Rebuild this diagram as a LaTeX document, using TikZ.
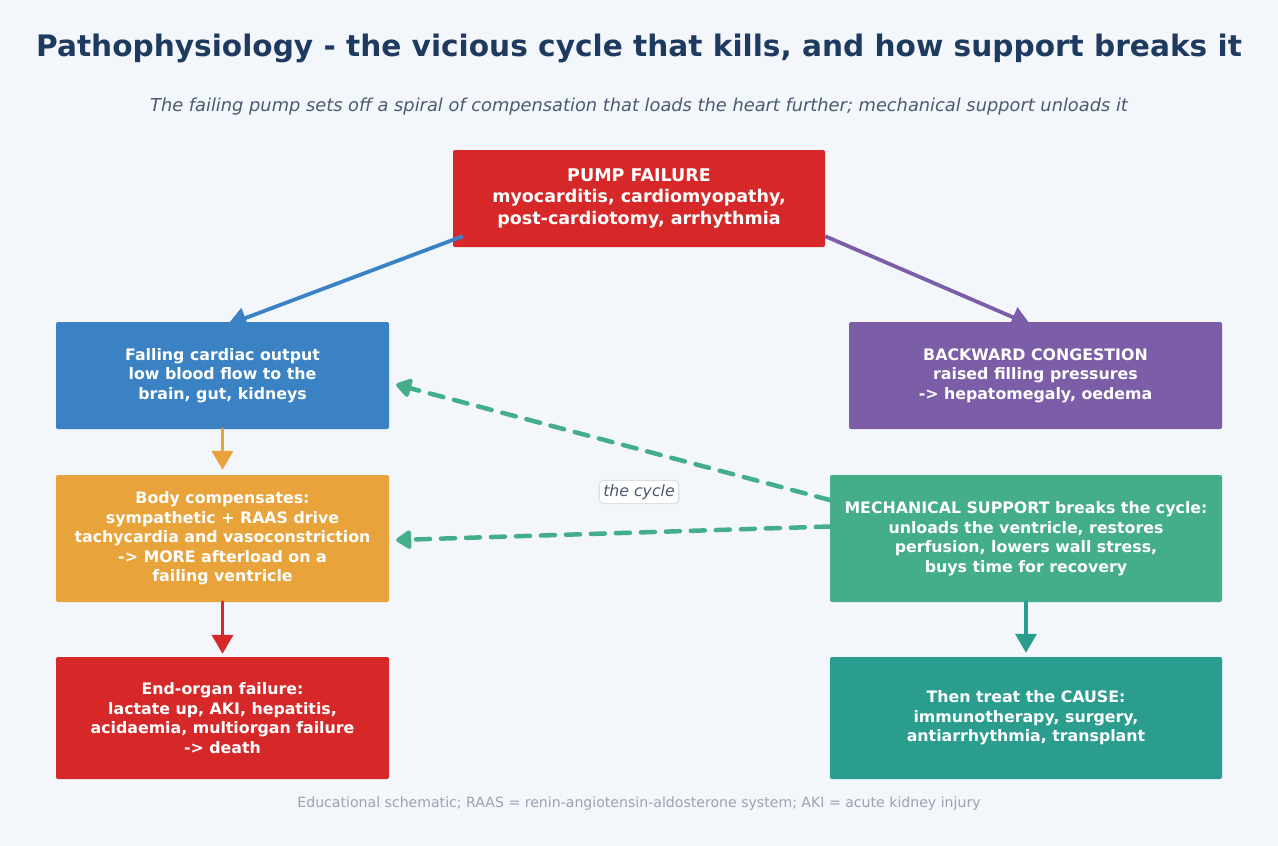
\documentclass[tikz,border=0pt]{standalone}
\usepackage{fontspec}
\setmainfont{DejaVu Sans}
\usepackage{tikz}
\usetikzlibrary{arrows.meta,calc}
\pgfdeclarelayer{back}
\pgfdeclarelayer{mid}
\pgfsetlayers{back,mid,main}
\definecolor{bgcol}{HTML}{F3F7FB}
\definecolor{titlecol}{HTML}{1F3A5F}
\definecolor{subcol}{HTML}{4A5A70}
\definecolor{notecol}{HTML}{9AA3AF}
\definecolor{pumpred}{HTML}{D62828}
\definecolor{flowblue}{HTML}{3A82C4}
\definecolor{congpurple}{HTML}{7B5EA7}
\definecolor{comporange}{HTML}{E8A33A}
\definecolor{supgreen}{HTML}{44AD8A}
\definecolor{treatteal}{HTML}{2A9D8F}
\definecolor{tagline}{HTML}{DCE0E5}
\begin{document}
\begin{tikzpicture}[line cap=round,line join=round,x=1pt,y=-1pt,
  box/.style={rounded corners=2pt,text=white,align=center,inner sep=0pt,
    font=\bfseries\fontsize{15.8}{19.5}\selectfont},
  link/.style={line width=3.8pt,-{Triangle[length=19pt,width=21pt]}},
  loopback/.style={line width=4.5pt,dash pattern=on 14pt off 11pt,color=supgreen,
    -{Triangle[round,length=17pt,width=21pt]}}]
\begin{pgfonlayer}{back}
\fill[bgcol] (0,0) rectangle (1278,846);
\end{pgfonlayer}
\useasboundingbox (0,0) rectangle (1278,846);
% titles
\node[text=titlecol,font=\bfseries\fontsize{29.6}{34}\selectfont] (title) at (639,48.5) {Pathophysiology - the vicious cycle that kills, and how support breaks it};
\node[text=subcol,font=\itshape\fontsize{17.8}{20}\selectfont] (subtitle) at (639,107) {The failing pump sets off a spiral of compensation that loads the heart further; mechanical support unloads it};
% boxes
\begin{pgfonlayer}{mid}
\node[box,fill=pumpred,minimum width=372pt,minimum height=97pt,font=\bfseries\fontsize{17.5}{21.5}\selectfont] (pump) at (639,198.5) {PUMP FAILURE\\myocarditis, cardiomyopathy,\\post-cardiotomy, arrhythmia};
\end{pgfonlayer}
\node[box,fill=flowblue,minimum width=333pt,minimum height=107pt] (fall) at (222.5,375.5) {Falling cardiac output\\low blood flow to the\\brain, gut, kidneys};
\node[box,fill=congpurple,minimum width=373pt,minimum height=107pt] (cong) at (1035.5,375.5) {BACKWARD CONGESTION\\raised filling pressures\\-> hepatomegaly, oedema};
\node[box,fill=comporange,minimum width=333pt,minimum height=127pt] (comp) at (222.5,538.5) {Body compensates:\\sympathetic + RAAS drive\\tachycardia and vasoconstriction\\-> MORE afterload on a\\failing ventricle};
\node[box,fill=supgreen,minimum width=392pt,minimum height=127pt] (mech) at (1026,538.5) {MECHANICAL SUPPORT breaks the cycle:\\unloads the ventricle, restores\\perfusion, lowers wall stress,\\buys time for recovery};
\node[box,fill=pumpred,minimum width=333pt,minimum height=122pt] (organ) at (222.5,718) {End-organ failure:\\lactate up, AKI, hepatitis,\\acidaemia, multiorgan failure\\-> death};
\node[box,fill=treatteal,minimum width=392pt,minimum height=122pt] (treat) at (1026,718) {Then treat the CAUSE:\\immunotherapy, surgery,\\antiarrhythmia, transplant};
% connectors
\begin{pgfonlayer}{mid}
\draw[link,flowblue] ($(pump.south west)+(10,-11)$) -- ($(fall.north)+(5,3)$);
\draw[link,congpurple] ($(pump.south east)+(0,-11)$) -- ($(cong.north)+(-5,3)$);
\end{pgfonlayer}
\draw[link,comporange,shorten >=5pt] (fall.south) -- (comp.north);
\draw[link,pumpred,shorten >=3pt] (comp.south) -- (organ.north);
\draw[link,treatteal,shorten >=4pt] (mech.south) -- (treat.north);
\draw[loopback] ($(mech.west)+(0,-38.5)$) -- ($(fall.east)+(7,9)$);
\draw[loopback] ($(mech.west)+(0,-12)$) -- ($(comp.east)+(7,1.5)$);
\node[fill=white,draw=tagline,line width=1.2pt,rounded corners=4pt,inner xsep=4pt,inner ysep=4pt,
  text=subcol,font=\itshape\fontsize{15.7}{17}\selectfont] (cyclelabel) at (639,492) {the cycle};
% footnote
\node[text=notecol,font=\fontsize{14.1}{16}\selectfont] (footnote) at (639,804) {Educational schematic; RAAS = renin-angiotensin-aldosterone system; AKI = acute kidney injury};
\end{tikzpicture}
\end{document}
